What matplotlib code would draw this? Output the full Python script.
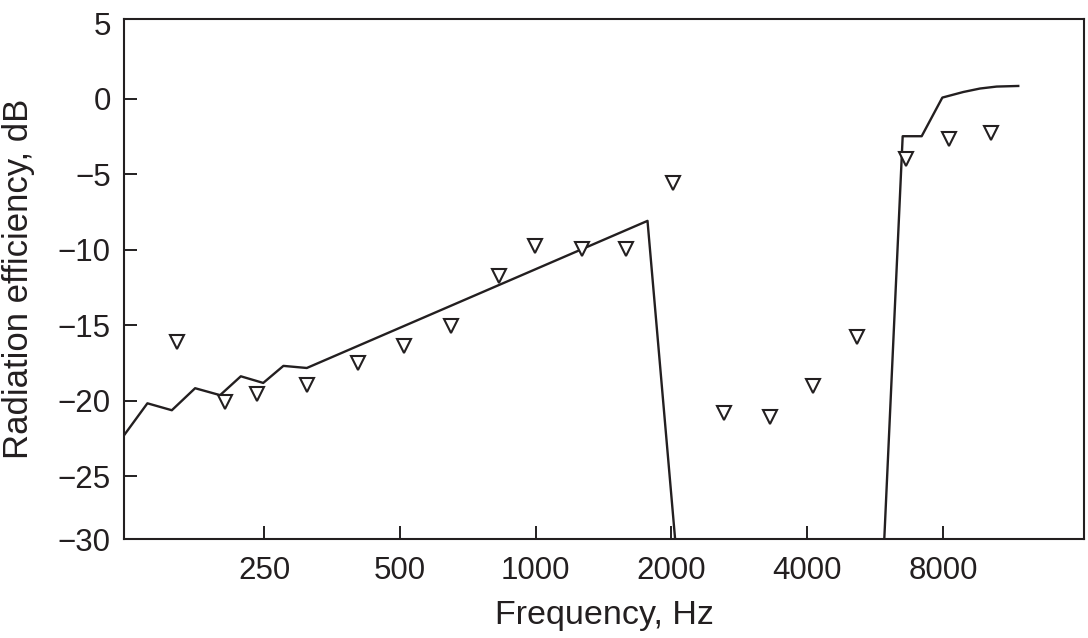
import matplotlib.pyplot as plt
import matplotlib.ticker as ticker

plt.rcParams['font.family'] = ['Liberation Sans', 'DejaVu Sans']

# Розрахункова крива (частота, Гц / ефективність, дБ)
calc_freq = [122.3, 137.8, 156.1, 175.8, 199.7, 222.0, 248.9, 275.9, 310.9,
             1770, 2063, 5890, 6512, 7175, 7973, 8873, 9662, 10520, 11747]
calc_db = [-22.29, -20.17, -20.63, -19.17, -19.63, -18.38, -18.82, -17.69, -17.83,
           -8.08, -31.0, -31.0, -2.47, -2.47, 0.09, 0.46, 0.69, 0.82, 0.86]

# Виміряні значення
meas_freq = [160.6, 204.9, 241.6, 310.9, 404.6, 510.8, 649.3, 831, 997, 1267,
             1584, 2013, 2612, 3308, 4127, 5165, 6612, 8250, 10203]
meas_db = [-16.12, -20.10, -19.57, -18.97, -17.47, -16.37, -15.06, -11.75, -9.74, -9.96,
           -9.96, -5.57, -20.81, -21.07, -19.04, -15.77, -3.95, -2.67, -2.29]

x_ticks = [250, 500, 1000, 2000, 4000, 8000]
x_labels = ['250', '500', '1000', '2000', '4000', '8000']
y_ticks = [-29.17, -25, -20, -15, -10, -5, 0, 5]
y_labels = ['\u221230', '\u221225', '\u221220', '\u221215', '\u221210', '\u22125', '0', '5']

ink = '#231f20'

fig = plt.figure(figsize=(10.88, 6.38), dpi=100)
ax = fig.add_axes([0.114, 0.155, 0.8823, 0.8148])

ax.plot(calc_freq, calc_db, color=ink, linewidth=1.7)
ax.plot(meas_freq, meas_db, linestyle='none', marker='v', markersize=10.5,
        markerfacecolor='white', markeredgecolor=ink, markeredgewidth=1.5)

ax.set_xscale('log', base=2)
ax.set_xlim(122.3, 16430)
ax.set_ylim(-29.17, 5.28)

ax.xaxis.set_major_locator(ticker.FixedLocator(x_ticks))
ax.xaxis.set_major_formatter(ticker.FixedFormatter(x_labels))
ax.xaxis.set_minor_locator(ticker.NullLocator())
ax.set_yticks(y_ticks)
ax.set_yticklabels(y_labels)

ax.tick_params(direction='in', length=9.4, width=1.4, color=ink,
               labelsize=22.5, labelcolor=ink)
ax.tick_params(axis='x', pad=12)
ax.tick_params(axis='y', pad=9.5)
# риска на "5" у оригіналі не видна
ax.yaxis.get_major_ticks()[-1].tick1line.set_visible(False)

for s in ax.spines.values():
    s.set_linewidth(1.5)
    s.set_color(ink)

ax.set_xlabel('Frequency, Hz', fontsize=24.5, color=ink)
ax.set_ylabel('Radiation efficiency, dB', fontsize=25, color=ink)
ax.xaxis.set_label_coords(0.5, -0.117)
ax.yaxis.set_label_coords(-0.093, 0.5)

plt.savefig('out.png', dpi=100)
